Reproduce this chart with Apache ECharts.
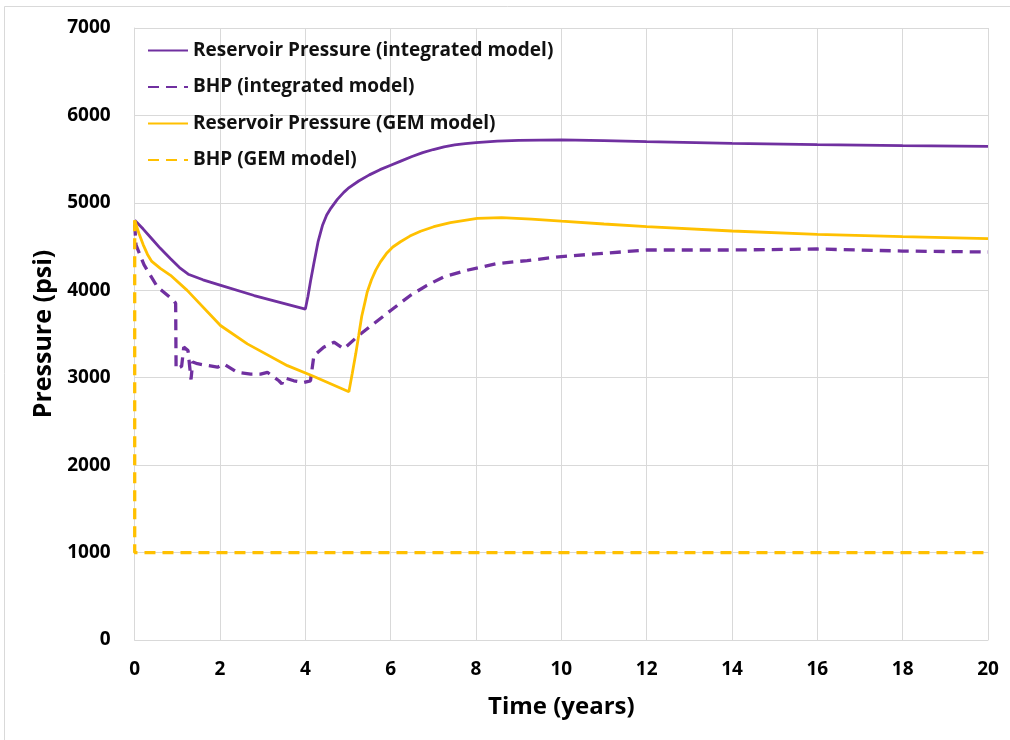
<!DOCTYPE html>
<html>
<head>
<meta charset="utf-8">
<script src="https://cdn.jsdelivr.net/npm/echarts@6/dist/echarts.min.js"></script>
<style>
  html, body { margin: 0; padding: 0; background: #ffffff; }
  #chart { width: 1010px; height: 740px; }
</style>
</head>
<body>
<div id="chart"></div>
<script>
// Pressure histories, [time in years, pressure in psi]
const resIntegrated = [
  [0, 4800], [0.2, 4700], [0.4, 4590], [0.6, 4480], [0.84, 4360], [1.05, 4260],
  [1.27, 4180], [1.6, 4120], [2.0, 4060], [2.8, 3940], [4.0, 3785], [4.06, 3930],
  [4.12, 4100], [4.2, 4310], [4.3, 4560], [4.4, 4740], [4.5, 4860], [4.6, 4940],
  [4.75, 5040], [4.9, 5120], [5.0, 5165], [5.25, 5250], [5.5, 5320], [5.75, 5380],
  [6.0, 5430], [6.25, 5480], [6.5, 5530], [6.75, 5575], [7.0, 5610], [7.25, 5640],
  [7.5, 5662], [7.75, 5678], [8.0, 5690], [8.5, 5705], [9.0, 5715], [10.0, 5720],
  [11, 5711], [12, 5700], [14, 5681], [16, 5665], [18, 5654], [20, 5645]
];
const bhpIntegrated = [
  [0, 4750], [0.03, 4520], [0.22, 4290], [0.53, 4040], [0.92, 3880], [0.96, 3850],
  [0.97, 3100], [1.1, 3130], [1.15, 3350], [1.25, 3310], [1.32, 2980], [1.36, 3180],
  [1.47, 3160], [1.7, 3140], [1.94, 3120], [2.09, 3157], [2.4, 3062], [2.72, 3042],
  [2.95, 3042], [3.11, 3062], [3.38, 2965], [3.45, 2930], [3.5, 3000], [3.73, 2965],
  [3.96, 2946], [4.12, 2965], [4.2, 3253], [4.43, 3349], [4.67, 3406], [4.9, 3330],
  [5.25, 3483], [5.6, 3617], [6.0, 3769], [6.46, 3941], [6.85, 4056], [7.24, 4153],
  [7.79, 4229], [8.49, 4305], [9.2, 4340], [10, 4386], [11, 4423], [12, 4461],
  [14, 4461], [16, 4472], [18, 4449], [20, 4438]
];
const resGem = [
  [0, 4800], [0.1, 4650], [0.2, 4520], [0.3, 4410], [0.4, 4330], [0.6, 4250],
  [0.84, 4171], [1.23, 3999], [2.01, 3597], [2.64, 3387], [3.58, 3138], [4.16, 3023],
  [5.02, 2839], [5.1, 3050], [5.18, 3270], [5.25, 3483], [5.32, 3700], [5.4, 3870],
  [5.45, 3981], [5.55, 4120], [5.65, 4230], [5.76, 4325], [5.9, 4420], [6.05, 4495],
  [6.23, 4555], [6.45, 4620], [6.7, 4675], [7.01, 4727], [7.4, 4775], [8.03, 4822],
  [8.6, 4830], [9.3, 4815], [10, 4790], [11, 4758], [12, 4727], [14, 4678],
  [16, 4640], [18, 4613], [20, 4590]
];
const bhpGem = [[0, 4800], [0, 1000], [20, 1000]];

const seriesNames = [
  'Reservoir Pressure (integrated model)',
  'BHP (integrated model)',
  'Reservoir Pressure (GEM model)',
  'BHP (GEM model)'
];

const PURPLE = '#7030A0';
const GOLD = '#FFC000';
const FONT = 'Open Sans';

const chart = echarts.init(document.getElementById('chart'), null, { renderer: 'canvas' });

function lineSeries(name, data, color, dashed) {
  return {
    name: name,
    type: 'line',
    data: data,
    symbol: 'none',
    smooth: false,
    lineStyle: {
      color: color,
      width: dashed ? 3.3 : 2.8,
      type: dashed ? [11, 7] : 'solid'
    },
    itemStyle: { color: color },
    animation: false
  };
}

chart.setOption({
  backgroundColor: '#ffffff',
  animation: false,
  graphic: [{
    type: 'rect',
    shape: { x: 4.5, y: 6.5, width: 1100, height: 800 },
    style: { fill: 'none', stroke: '#d9d9d9', lineWidth: 1 },
    silent: true
  }],
  grid: { left: 134.7, right: 22, top: 28, bottom: 100, containLabel: false },
  legend: {
    orient: 'vertical',
    left: 147,
    top: 39.5,
    padding: 0,
    itemWidth: 40,
    itemHeight: 14,
    itemGap: 14.5,
    data: seriesNames,
    itemStyle: { opacity: 0 },
    textStyle: {
      fontFamily: FONT,
      fontWeight: 'bold',
      fontSize: 19,
      color: '#111111',
      lineHeight: 22
    }
  },
  xAxis: {
    type: 'value',
    min: 0,
    max: 20,
    interval: 2,
    name: 'Time (years)',
    nameLocation: 'middle',
    nameGap: 55,
    nameTextStyle: { fontFamily: FONT, fontWeight: 'bold', fontSize: 24, color: '#000' },
    axisLine: { show: true, lineStyle: { color: '#d9d9d9', width: 1 } },
    axisTick: { show: false },
    axisLabel: { fontFamily: FONT, fontWeight: 'bold', fontSize: 19, color: '#000', margin: 20 },
    splitLine: { show: true, lineStyle: { color: '#d9d9d9', width: 1 } }
  },
  yAxis: {
    type: 'value',
    min: 0,
    max: 7000,
    interval: 1000,
    name: 'Pressure (psi)',
    nameLocation: 'middle',
    nameGap: 77,
    nameTextStyle: { fontFamily: FONT, fontWeight: 'bold', fontSize: 25, color: '#000' },
    axisLine: { show: true, lineStyle: { color: '#d9d9d9', width: 1 } },
    axisTick: { show: false },
    axisLabel: {
      fontFamily: FONT, fontWeight: 'bold', fontSize: 19, color: '#000', margin: 24,
      formatter: function (v) { return String(v); }
    },
    splitLine: { show: true, lineStyle: { color: '#d9d9d9', width: 1 } }
  },
  series: [
    lineSeries(seriesNames[0], resIntegrated, PURPLE, false),
    lineSeries(seriesNames[1], bhpIntegrated, PURPLE, true),
    lineSeries(seriesNames[2], resGem, GOLD, false),
    lineSeries(seriesNames[3], bhpGem, GOLD, true)
  ]
});
</script>
</body>
</html>
